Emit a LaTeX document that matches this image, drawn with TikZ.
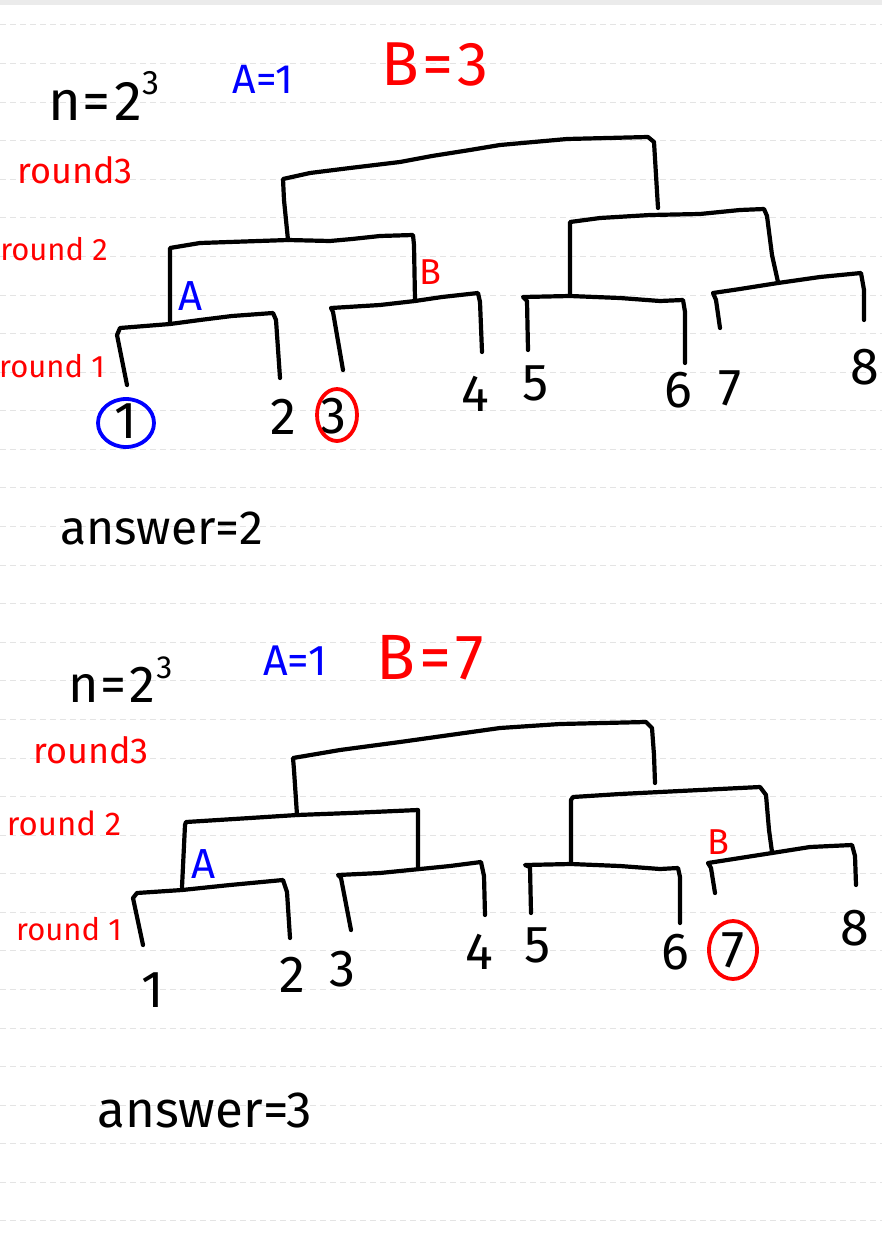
\documentclass[tikz,border=0pt]{standalone}
\usepackage{fontspec}
\setmainfont{Fira Sans}
\definecolor{hblue}{RGB}{0,0,255}
\definecolor{hred}{RGB}{255,0,0}
\definecolor{ruleline}{RGB}{228,228,228}
\definecolor{topband}{RGB}{235,235,235}
\newcommand{\fs}[1]{\fontsize{#1}{#1}\selectfont}
\begin{document}
\begin{tikzpicture}[x=1pt,y=-1pt,
  pen/.style={line width=4.2pt, line cap=round, line join=round, draw=black},
  ring/.style={line width=3.8pt},
  gridline/.style={draw=ruleline, line width=1pt, dash pattern=on 6pt off 4pt},
  hw/.style={inner sep=0pt, anchor=center},
  leaf/.style={hw, font=\fs{52}},
  redlbl/.style={hw, text=hred},
  bluetag/.style={hw, text=hblue, font=\fs{42}},
  redtag/.style={hw, text=hred, font=\fs{36}}]
\useasboundingbox (0,0) rectangle (882,1255);
\fill[white] (0,0) rectangle (882,1255);
\fill[topband] (0,0) rectangle (882,5);
\foreach \k in {0,...,31} \draw[gridline] (0,{25+38.58*\k}) -- (882,{25+38.58*\k});

% ================= Tree 1 =================
\node[hw, anchor=base west, font=\fs{56}] (h1n) at (48,120) {n\kern2pt=\kern3pt2\kern1pt\raisebox{26pt}{\fs{34}3}};
\node[hw, text=hblue, font=\fs{41}] (h1a) at (263,79) {A=1};
\node[hw, text=hred, font=\fs{62}] (h1b) at (435,65) {B\kern4pt=\kern4pt3};
\node[redlbl, font=\fs{36}] (r13) at (75,170) {round3};
\node[redlbl, font=\fs{31}] (r12) at (54,249) {round 2};
\node[redlbl, font=\fs{31}] (r11) at (52,366) {round 1};

\node[leaf] (a1) at (126,421) {1};
\node[leaf] (a2) at (283,417) {2};
\node[leaf] (a3) at (333,416) {3};
\node[leaf] (a4) at (475,394) {4};
\node[leaf] (a5) at (536,383) {5};
\node[leaf] (a6) at (678,390) {6};
\node[leaf] (a7) at (730,388) {7};
\node[leaf] (a8) at (865,367) {8};
\draw[ring, hblue] (a1.center) ++(0,2) ellipse [x radius=28pt, y radius=24pt];
\draw[ring, hred] (a3.center) ++(4,-1) ellipse [x radius=20pt, y radius=26pt];
\node[bluetag] (tA1) at (191,296) {A};
\node[redtag] (tB1) at (430,272) {B};

% round 1 brackets
\coordinate (a12l) at (127,385); \coordinate (a12r) at (280,378);
\draw[pen] (a12l) -- (117,335) -- (120,328) -- (170,324) -- (200,320) -- (232,316) -- (273,313) -- (276,320) -- (a12r);
\coordinate (a34l) at (343,370); \coordinate (a34r) at (482,352);
\draw[pen] (a34l) -- (333,312) -- (331,308) -- (380,305) -- (415,301) -- (442,297) -- (478,293) -- (480,302) -- (a34r);
\coordinate (a56l) at (528,350); \coordinate (a56r) at (685,363);
\draw[pen] (a56l) -- (527,301) -- (523,297) -- (570,296) -- (620,298) -- (660,301) -- (683,300) -- (685,312) -- (a56r);
\coordinate (a78l) at (720,328); \coordinate (a78r) at (864,320);
\draw[pen] (a78l) -- (716,300) -- (713,293) -- (740,289) -- (778,283) -- (820,277) -- (861,273) -- (864,290) -- (a78r);
% round 2 brackets
\draw[pen] (170,323) -- (170,248) -- (200,243) -- (288,240) -- (330,241) -- (352,239) -- (380,236) -- (413,235) -- (414,245) -- (415,300);
\draw[pen] (570,295) -- (570,222) -- (600,218) -- (650,215) -- (700,214) -- (740,210) -- (764,209) -- (767,216) -- (772,255) -- (778,282);
% round 3 bracket
\draw[pen] (288,240) -- (284,200) -- (283,179) -- (310,173) -- (350,168) -- (400,162) -- (432,156) -- (470,150) -- (500,145) -- (567,139) -- (648,137) -- (654,142) -- (656,175) -- (658,208);

\node[hw, font=\fs{48}] (ans1) at (162,528) {answer=2};

% ================= Tree 2 =================
\node[hw, anchor=base west, font=\fs{52}] (h2n) at (68,702) {n\kern2pt=\kern3pt2\kern1pt\raisebox{24pt}{\fs{32}3}};
\node[hw, text=hblue, font=\fs{43}] (h2a) at (295,661) {A=1};
\node[hw, text=hred, font=\fs{64}] (h2b) at (430,658) {B\kern4pt=\kern4pt7};
\node[redlbl, font=\fs{36}] (r23) at (91,750) {round3};
\node[redlbl, font=\fs{33}] (r22) at (64,823) {round 2};
\node[redlbl, font=\fs{31}] (r21) at (69,929) {round 1};

\node[leaf] (b1) at (153,990) {1};
\node[leaf] (b2) at (292,975) {2};
\node[leaf] (b3) at (342,969) {3};
\node[leaf] (b4) at (479,952) {4};
\node[leaf] (b5) at (538,945) {5};
\node[leaf] (b6) at (675,952) {6};
\node[leaf] (b7) at (733,950) {7};
\node[leaf] (b8) at (855,928) {8};
\draw[ring, hred] (b7.center) ellipse [x radius=24pt, y radius=29pt];
\node[bluetag] (tA2) at (204,864) {A};
\node[redtag] (tB2) at (718,842) {B};

% round 1 brackets
\coordinate (b12l) at (143,945); \coordinate (b12r) at (290,938);
\draw[pen] (b12l) -- (133,898) -- (137,893) -- (182,890) -- (230,885) -- (283,880) -- (287,892) -- (b12r);
\coordinate (b34l) at (351,930); \coordinate (b34r) at (485,915);
\draw[pen] (b34l) -- (341,878) -- (338,875) -- (380,873) -- (420,869) -- (450,866) -- (481,862) -- (484,876) -- (b34r);
\coordinate (b56l) at (531,913); \coordinate (b56r) at (680,923);
\draw[pen] (b56l) -- (530,867) -- (525,865) -- (571,864) -- (620,866) -- (660,869) -- (678,868) -- (680,877) -- (b56r);
\coordinate (b78l) at (715,893); \coordinate (b78r) at (856,885);
\draw[pen] (b78l) -- (711,868) -- (708,863) -- (740,858) -- (772,853) -- (810,847) -- (852,845) -- (855,856) -- (b78r);
% round 2 brackets
\draw[pen] (182,887) -- (185,825) -- (186,822) -- (250,818) -- (297,815) -- (350,813) -- (418,810) -- (418,822) -- (418,868);
\draw[pen] (571,862) -- (571,800) -- (573,797) -- (620,794) -- (700,790) -- (760,787) -- (766,795) -- (769,830) -- (772,852);
% round 3 bracket
\draw[pen] (297,815) -- (294,770) -- (293,758) -- (340,750) -- (400,742) -- (450,735) -- (500,728) -- (560,724) -- (646,722) -- (652,728) -- (654,755) -- (655,783);

\node[hw, font=\fs{51}] (ans2) at (205,1110) {answer=3};
\end{tikzpicture}
\end{document}
